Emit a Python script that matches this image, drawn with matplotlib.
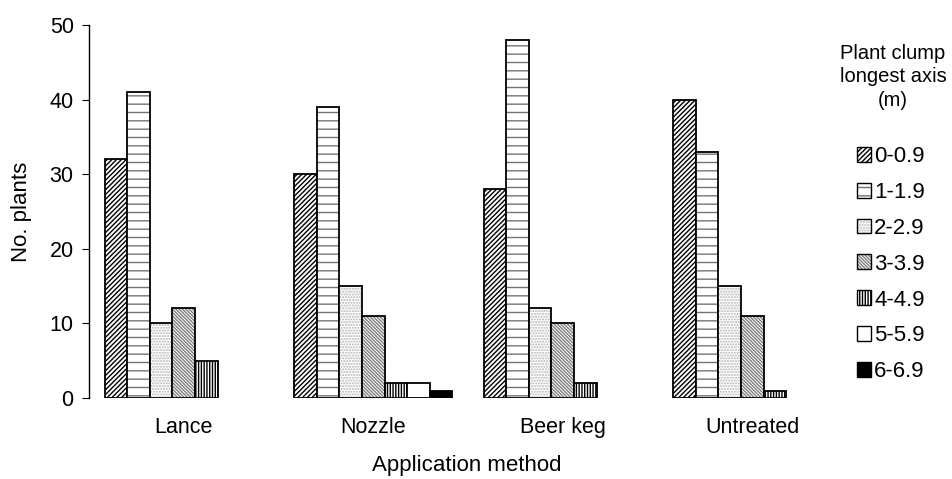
import numpy as np
import matplotlib.pyplot as plt
from matplotlib.patches import Patch

plt.rcParams['font.family'] = ['Liberation Sans', 'DejaVu Sans']
plt.rcParams['hatch.linewidth'] = 1.0

methods = ['Lance', 'Nozzle', 'Beer keg', 'Untreated']
sizes = ['0-0.9', '1-1.9', '2-2.9', '3-3.9', '4-4.9', '5-5.9', '6-6.9']

s0 = [32, 30, 28, 40]
s1 = [41, 39, 48, 33]
s2 = [10, 15, 12, 15]
s3 = [12, 11, 10, 11]
s4 = [5, 2, 2, 1]
s5 = [0, 2, 0, 0]
s6 = [0, 1, 0, 0]
counts = [s0, s1, s2, s3, s4, s5, s6]

# facecolor, hatch, hatch colour
styles = [
    ('white', '///////', 'black'),
    ('white', '--', '0.45'),
    ('white', '......', '0.7'),
    ('white', '\\\\\\\\\\\\\\\\\\\\', '0.5'),
    ('white', '||||||', 'black'),
    ('white', '', 'black'),
    ('black', '', 'black'),
]

fig = plt.figure(figsize=(9.53, 4.79), dpi=100)
ax = fig.add_axes([89/953, 81/479, 758/953, 373/479])

x = np.arange(len(methods))
w = 1 / 8.4
handles = []
for j, (lab, vals) in enumerate(zip(sizes, counts)):
    fc, h, hc = styles[j]
    pos = x + (j - 3) * w
    vals = np.array(vals)
    m = vals > 0
    ax.bar(pos[m], vals[m], width=w, facecolor=fc, hatch=h, edgecolor=hc, linewidth=0)
    ax.bar(pos[m], vals[m], width=w, fill=False, edgecolor='black', linewidth=1.3)
    handles.append((Patch(facecolor=fc, hatch=h, edgecolor=hc, linewidth=0),
                    Patch(fill=False, edgecolor='black', linewidth=1.0)))

ax.set_xlim(-0.5, 3.5)
ax.set_ylim(0, 50)
ax.set_yticks(range(0, 51, 10))
ax.set_xticks(x)
ax.set_xticklabels(methods)
ax.tick_params(axis='x', length=0, pad=14, labelsize=15.5)
ax.tick_params(axis='y', length=5, pad=6, labelsize=15.5, direction='out')
for s in ['top', 'right', 'bottom']:
    ax.spines[s].set_visible(False)
ax.spines['left'].set_linewidth(1.0)

fig.text(467/953, 1 - 465/479, 'Application method', ha='center', va='center', fontsize=16)
fig.text(22/953, 1 - 212/479, 'No. plants', ha='center', va='center', rotation=90, fontsize=16)
fig.text(893/953, 1 - 77/479, 'Plant clump\nlongest axis\n(m)', ha='center', va='center',
         fontsize=14.5, linespacing=1.3)

fig.legend(handles, sizes, loc='upper left', bbox_to_anchor=(857/953, 1 - 146/479),
           frameon=False, fontsize=16, handlelength=0.65, handleheight=0.65,
           handletextpad=0.12, labelspacing=0.67, borderpad=0, borderaxespad=0)

fig.savefig('out.png', dpi=100)
